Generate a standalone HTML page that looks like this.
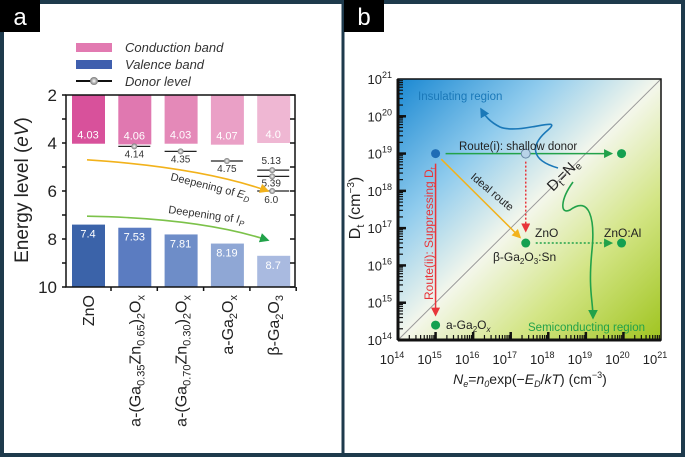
<!DOCTYPE html>
<html><head><meta charset="utf-8"><style>
html,body{margin:0;padding:0;background:#fff}
svg{display:block;font-family:"Liberation Sans",sans-serif}
</style></head><body>
<svg id="root" width="685" height="457" viewBox="0 0 685 457">
<defs>
<linearGradient id="bg" x1="0" y1="0" x2="1" y2="1">
<stop offset="0" stop-color="#1a88d2"/><stop offset="0.28" stop-color="#8fcbed"/>
<stop offset="0.5" stop-color="#f4f7ec"/><stop offset="0.72" stop-color="#d3e585"/><stop offset="1" stop-color="#9fc41f"/>
</linearGradient>
<marker id="mg" markerWidth="6" markerHeight="6" refX="5" refY="3" orient="auto"><path d="M0,0L6,3L0,6z" fill="#22a24a"/></marker>
<marker id="mr" markerWidth="6" markerHeight="6" refX="5" refY="3" orient="auto"><path d="M0,0L6,3L0,6z" fill="#e8353a"/></marker>
<marker id="my" markerWidth="6" markerHeight="6" refX="5" refY="3" orient="auto"><path d="M0,0L6,3L0,6z" fill="#f2b21b"/></marker>
<marker id="mb" markerWidth="6" markerHeight="6" refX="5" refY="3" orient="auto"><path d="M0,0L6,3L0,6z" fill="#1a78b8"/></marker>
<radialGradient id="ball"><stop offset="0" stop-color="#fff"/><stop offset="1" stop-color="#777"/></radialGradient>
</defs>
<rect x="2" y="2" width="681" height="453" fill="#fff" stroke="#1e3a4c" stroke-width="4"/>
<line x1="343" y1="0" x2="343" y2="457" stroke="#1e3a4c" stroke-width="3"/>
<rect x="0" y="0" width="40" height="32" fill="#000"/>
<text x="20" y="25" fill="#fff" font-size="24" text-anchor="middle">a</text>
<rect x="344" y="0" width="40" height="32" fill="#000"/>
<text x="364" y="25" fill="#fff" font-size="24" text-anchor="middle">b</text>
<g id="pa"></g>
<g id="pb"></g>
</svg>
<script>
// ---------- Panel a data ----------
const catsA = ["ZnO","a-(Ga0.35Zn0.65)2Ox","a-(Ga0.70Zn0.30)2Ox","a-Ga2Ox","β-Ga2O3"];
const cbValues = [4.03,4.06,4.03,4.07,4.0];
const cbLabels = ["4.03","4.06","4.03","4.07","4.0"];
const vbValues = [7.4,7.53,7.81,8.19,8.7];
const vbLabels = ["7.4","7.53","7.81","8.19","8.7"];
const donorValues = [[],[4.14],[4.35],[4.75],[5.13,5.39,6.0]];
const donorLabels = [[],["4.14"],["4.35"],["4.75"],["5.13","5.39","6.0"]];
const yTicksA = [2,4,6,8,10];
// ---------- Panel b data ----------
const ptNames = ["blue","shallow","right","ZnO","ZnO:Al","a-Ga2Ox"];
const ptX = [15,17.4,19.95,17.4,19.95,15];
const ptY = [19,19,19,16.6,16.6,14.4];
const logTicks = [14,15,16,17,18,19,20,21];

const NS="http://www.w3.org/2000/svg";
function mk(parent,tag,attrs,txt){const e=document.createElementNS(NS,tag);for(const k in attrs)e.setAttribute(k,attrs[k]);if(txt!==undefined)e.textContent=txt;parent.appendChild(e);return e;}
const pa=document.getElementById('pa'), pb=document.getElementById('pb');

const aL=66,aR=295,aT=95,aB=287;
const yA=v=>aT+(v-2)*(aB-aT)/8;
const xA=i=>88+i*46.3;
const cbCol=["#d8519b","#e078b0","#e489b8","#eaa0c6","#efb7d3"];
const vbCol=["#3b63a9","#5b7cc1","#6e8dc8","#8fa7d5","#a9bae0"];
let e;
e=mk(pa,'rect',{x:76,y:43,width:36,height:9,fill:"#e27ab1"});
e=mk(pa,'text',{x:125,y:52,'font-size':13,'font-style':'italic',fill:'#333'},"Conduction band");
e=mk(pa,'rect',{x:76,y:60,width:36,height:9,fill:"#3f5fae"});
e=mk(pa,'text',{x:125,y:69,'font-size':13,'font-style':'italic',fill:'#333'},"Valence band");
e=mk(pa,'line',{x1:76,y1:81,x2:112,y2:81,stroke:'#111','stroke-width':2});
e=mk(pa,'circle',{cx:94,cy:81,r:4,fill:'url(#ball)'});
e=mk(pa,'text',{x:125,y:86,'font-size':13,'font-style':'italic',fill:'#333'},"Donor level");

catsA.forEach((c,i)=>{
  const cx=xA(i);
  e=mk(pa,'rect',{x:cx-16,y:aT,width:33,height:yA(cbValues[i])-aT,fill:cbCol[i]});
  e=mk(pa,'text',{x:cx,y:yA(cbValues[i])-5,'font-size':11,fill:'#fff','text-anchor':'middle'},cbLabels[i]);
  e=mk(pa,'rect',{x:cx-16,y:yA(vbValues[i]),width:33,height:aB-yA(vbValues[i]),fill:vbCol[i]});
  e=mk(pa,'text',{x:cx,y:yA(vbValues[i])+13,'font-size':11,fill:'#fff','text-anchor':'middle'},vbLabels[i]);
  donorValues[i].forEach((d,j)=>{
    const y=yA(d);
    e=mk(pa,'line',{x1:cx-16,y1:y,x2:cx+16,y2:y,stroke:'#222','stroke-width':1.3});
    e=mk(pa,'circle',{cx:cx+(i==4?-1:0),cy:y,r:3,fill:'url(#ball)'});
    const ly = i==4 ? (j==0?y-6:(j==1?y+10:y+12)) : y+11;
    e=mk(pa,'text',{x:cx+(i==4?-2:0),y:ly,'font-size':10,fill:'#333','text-anchor':'middle'},donorLabels[i][j]);
  });
  const g=mk(pa,'text',{transform:`translate(${cx+6},${aB+8}) rotate(-90)`,'font-size':16,fill:'#222','text-anchor':'end'});
  
  const parts={0:[["ZnO",0]],1:[["a-(Ga",0],["0.35",1],["Zn",0],["0.65",1],[")",0],["2",1],["O",0],["x",1]],
    2:[["a-(Ga",0],["0.70",1],["Zn",0],["0.30",1],[")",0],["2",1],["O",0],["x",1]],3:[["a-Ga",0],["2",1],["O",0],["x",1]],4:[["β-Ga",0],["2",1],["O",0],["3",1]]}[i];
  let sub=false;
  parts.forEach(p=>{
    const a={};
    if(p[1]){a['font-size']=11;if(!sub)a.dy=4;sub=true;}
    else{if(sub)a.dy=-4;sub=false;}
    mk(g,'tspan',a,p[0]);});
});
e=mk(pa,'path',{d:`M87,${yA(4.7)} C160,${yA(4.9)} 220,${yA(5.3)} 268,${yA(6.0)}`,fill:'none',stroke:'#f2b21b','stroke-width':1.6,'marker-end':'url(#my)'});
e=mk(pa,'text',{x:170,y:180,'font-size':11,fill:'#333',transform:'rotate(14 170 180)'});
mk(e,'tspan',{},"Deepening of ");mk(e,'tspan',{'font-style':'italic'},"E");mk(e,'tspan',{'font-style':'italic','font-size':8,dy:3},"D");
e=mk(pa,'path',{d:`M87,${yA(7.05)} C160,${yA(7.1)} 220,${yA(7.4)} 268,${yA(8.05)}`,fill:'none',stroke:'#7cc24a','stroke-width':1.6,'marker-end':'url(#mg)'});
e=mk(pa,'text',{x:168,y:213,'font-size':11,fill:'#333',transform:'rotate(8 168 213)'});
mk(e,'tspan',{},"Deepening of ");mk(e,'tspan',{'font-style':'italic'},"I");mk(e,'tspan',{'font-style':'italic','font-size':8,dy:3},"P");
e=mk(pa,'rect',{x:aL,y:aT,width:aR-aL,height:aB-aT,fill:'none',stroke:'#111','stroke-width':1.5});
for(let v=2;v<=10;v++){const y=yA(v);
  mk(pa,'line',{x1:aL,y1:y,x2:aL-4,y2:y,stroke:'#111','stroke-width':1.5});
  mk(pa,'line',{x1:aR,y1:y,x2:aR-5,y2:y,stroke:'#111','stroke-width':1.5});}
yTicksA.forEach(v=>{e=mk(pa,'text',{x:57,y:yA(v)+6,'font-size':17,fill:'#222','text-anchor':'end'},String(v));});
catsA.forEach((c,i)=>{mk(pa,'line',{x1:xA(i)+23,y1:aB,x2:xA(i)+23,y2:aB+4,stroke:'#111','stroke-width':1.5});});
e=mk(pa,'text',{transform:'translate(28,190) rotate(-90)','font-size':19,fill:'#222','text-anchor':'middle'},"Energy level (");
mk(e,'tspan',{'font-style':'italic'},"eV");mk(e,'tspan',{},")");

// ---------- Panel b ----------
const bL=398,bR=661,bT=79,bB=340;
const xB=v=>bL+(v-14)*(bR-bL)/7;
const yB=v=>bB-(v-14)*(bB-bT)/7;
e=mk(pb,'rect',{x:bL,y:bT,width:bR-bL,height:bB-bT,fill:'url(#bg)'});
e=mk(pb,'line',{x1:xB(14),y1:yB(14),x2:xB(21),y2:yB(21),stroke:'#9a9a9a','stroke-width':1});
const P=i=>[xB(ptX[i]),yB(ptY[i])];
function arrow(a,b,col,mk2,dash,name,d1,d2){const [x1,y1]=P(a),[x2,y2]=P(b);
  const dx=x2-x1,dy=y2-y1,L=Math.hypot(dx,dy);
  e=mk(pb,'line',{x1:x1+dx/L*d1,y1:y1+dy/L*d1,x2:x2-dx/L*d2,y2:y2-dy/L*d2,stroke:col,'stroke-width':1.5,'marker-end':`url(#${mk2})`,'stroke-dasharray':dash||'none'});
  }
arrow(0,2,'#22a24a','mg',null,'route-i-arrow',10,10);
arrow(0,5,'#e8353a','mr',null,'route-ii-arrow',10,10);
arrow(0,3,'#f2b21b','my',null,'ideal-route-arrow',8,8);
arrow(1,3,'#e8353a','mr','2,2','shallow-to-zno-arrow',8,12);
arrow(3,4,'#22a24a','mg','2,2','zno-to-znoal-arrow',10,10);
e=mk(pb,'path',{d:'M558,168 C530,160 530,145 548,130 C565,115 520,135 500,127 C490,122 485,116 481,109',fill:'none',stroke:'#1a78b8','stroke-width':1.6,'marker-end':'url(#mb)'});
e=mk(pb,'path',{d:'M573,182 C560,200 560,215 570,210 C590,195 595,220 592,250 C588,290 593,300 593,318',fill:'none',stroke:'#22a24a','stroke-width':1.6,'marker-end':'url(#mg)'});
const ptCol=["#1f6db5","#b8d3e8","#14a050","#14a050","#14a050","#14a050"];
ptNames.forEach((n,i)=>{const [x,y]=P(i);
  e=mk(pb,'circle',{cx:x,cy:y,r:4.5,fill:ptCol[i],stroke:i==1?'#6a8ba8':'none'});});
function T(x,y,s,fs,col,nm,extra){e=mk(pb,'text',Object.assign({x:x,y:y,'font-size':fs,fill:col},extra||{}),s);return e;}
T(418,100,"Insulating region",11.5,'#1a78b8','insulating-label');
T(459,150,"Route(i): shallow donor",11.5,'#222','route-i-label');
T(470,178,"Ideal route",11,'#222','ideal-route-label',{transform:'rotate(40 470 178)'});
let t=T(553,192,"D",15,'#222','dt-ne-label',{transform:'rotate(-45 553 192)'});mk(t,'tspan',{'font-size':10,dy:3},"t");mk(t,'tspan',{dy:-3},"=N");mk(t,'tspan',{'font-size':10,dy:3},"e");
t=T(433,300,"Route(ii): Suppressing D",12,'#e8353a','route-ii-label',{transform:'rotate(-90 433 300)'});mk(t,'tspan',{'font-size':8,dy:3},"t");
T(535,237,"ZnO",12,'#222','zno-label');
T(604,237,"ZnO:Al",12,'#222','znoal-label');
t=T(493,261,"β-Ga",12,'#222','bga2o3sn-label');mk(t,'tspan',{'font-size':8,dy:3},"2");mk(t,'tspan',{dy:-3},"O");mk(t,'tspan',{'font-size':8,dy:3},"3");mk(t,'tspan',{dy:-3},":Sn");
t=T(446,329,"a-Ga",12,'#222','aga2ox-label');mk(t,'tspan',{'font-size':8,dy:3},"2");mk(t,'tspan',{dy:-3},"O");mk(t,'tspan',{'font-size':8,dy:3,'font-style':'italic'},"x");
T(528,331,"Semiconducting region",11.5,'#22a24a','semiconducting-label');
e=mk(pb,'rect',{x:bL,y:bT,width:bR-bL,height:bB-bT,fill:'none',stroke:'#111','stroke-width':1.5});
mk(pb,'line',{x1:bL,y1:bT,x2:bL,y2:bB,stroke:'#111','stroke-width':3});
mk(pb,'line',{x1:bL,y1:bB,x2:bR,y2:bB,stroke:'#111','stroke-width':3});
for(let d=14;d<21;d++){for(let m=1;m<10;m++){const v=d+Math.log10(m);const len=m==1?8:5;
  mk(pb,'line',{x1:bL,y1:yB(v),x2:bL+len,y2:yB(v),stroke:'#111','stroke-width':m==1?2.5:1.2});
  mk(pb,'line',{x1:xB(v),y1:bB,x2:xB(v),y2:bB-len,stroke:'#111','stroke-width':m==1?2.5:1.2});}}
logTicks.forEach(v=>{
  let t=mk(pb,'text',{x:bL-6,y:yB(v)+5,'font-size':13,fill:'#222','text-anchor':'end'},"10");mk(t,'tspan',{'font-size':9,dy:-6},String(v));
  t=mk(pb,'text',{x:xB(v)-6,y:bB+24,'font-size':13,fill:'#222','text-anchor':'middle'},"10");mk(t,'tspan',{'font-size':9,dy:-6},String(v));
});
t=mk(pb,'text',{transform:'translate(360,208) rotate(-90)','font-size':16,fill:'#222','text-anchor':'middle'},"D");
mk(t,'tspan',{'font-size':11,dy:4},"t");mk(t,'tspan',{dy:-4},"\u00a0(cm");mk(t,'tspan',{'font-size':10,dy:-6},"−3");mk(t,'tspan',{dy:6},")");
t=mk(pb,'text',{x:530,y:384,'font-size':14,fill:'#222','text-anchor':'middle'});
mk(t,'tspan',{'font-style':'italic'},"N");mk(t,'tspan',{'font-size':9,'font-style':'italic',dy:3},"e");mk(t,'tspan',{dy:-3},"=");mk(t,'tspan',{'font-style':'italic'},"n");mk(t,'tspan',{'font-size':9,'font-style':'italic',dy:3},"0");
mk(t,'tspan',{dy:-3},"exp(−");mk(t,'tspan',{'font-style':'italic'},"E");mk(t,'tspan',{'font-size':9,'font-style':'italic',dy:3},"D");mk(t,'tspan',{dy:-3},"/");mk(t,'tspan',{'font-style':'italic'},"kT");mk(t,'tspan',{},") (cm");mk(t,'tspan',{'font-size':9,dy:-6},"−3");mk(t,'tspan',{dy:6},")");
</script>
</body></html>
